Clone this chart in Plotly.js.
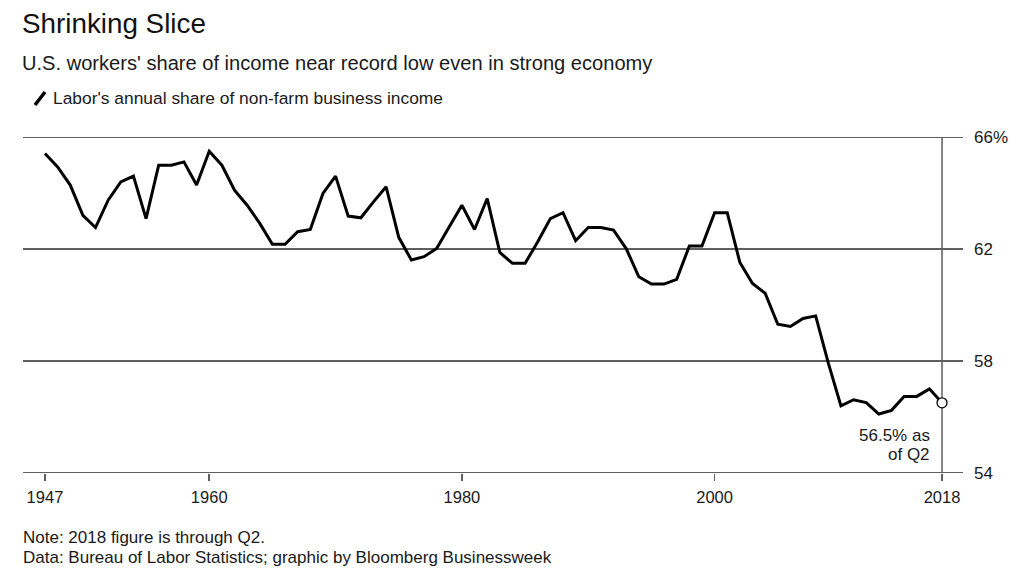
<!DOCTYPE html>
<html>
<head>
<meta charset="utf-8">
<script src="https://cdn.plot.ly/plotly-3.0.1.min.js"></script>
<style>html,body{margin:0;padding:0;background:#fff;}#chart{width:1024px;height:586px;}</style>
</head>
<body>
<div id="chart"></div>
<script>
// ---- Data ----
const years = [1947,1948,1949,1950,1951,1952,1953,1954,1955,1956,1957,1958,1959,1960,1961,1962,1963,1964,1965,1966,1967,1968,1969,1970,1971,1972,1973,1974,1975,1976,1977,1978,1979,1980,1981,1982,1983,1984,1985,1986,1987,1988,1989,1990,1991,1992,1993,1994,1995,1996,1997,1998,1999,2000,2001,2002,2003,2004,2005,2006,2007,2008,2009,2010,2011,2012,2013,2014,2015,2016,2017,2018];
const laborShare = [65.42,64.94,64.29,63.21,62.77,63.75,64.40,64.61,63.09,65.00,65.00,65.12,64.29,65.50,65.00,64.11,63.57,62.92,62.17,62.17,62.62,62.70,63.99,64.61,63.18,63.12,63.69,64.23,62.42,61.61,61.73,62.02,62.80,63.57,62.70,63.81,61.88,61.49,61.49,62.26,63.09,63.30,62.30,62.77,62.77,62.68,62.02,61.01,60.75,60.75,60.92,62.11,62.11,63.30,63.30,61.52,60.77,60.42,59.31,59.23,59.52,59.61,57.92,56.39,56.61,56.51,56.10,56.23,56.73,56.73,57.00,56.50];
const xTickVals = [1947,1960,1980,2000,2018];
const xTickText = ['1947','1960','1980','2000','2018'];
const yTickVals = [54,58,62,66];
const yTickText = ['54','58','62','66%'];
const lastYear = years[years.length-1];
const lastValue = laborShare[laborShare.length-1];

// ---- Layout helpers (pixel -> paper) ----
const FW = 1024, FH = 586;
const L = 23, R = 61, T = 137, B = 113;
const W = FW - L - R, H = FH - T - B;
const px = p => (p - L) / W;
const py = p => (FH - B - p) / H;
const FONT = '"Liberation Sans", Arial, Helvetica, sans-serif';
const GRID = '#5e5e5e';
const TXT = '#1a1a1a';

const traces = [
  {
    x: years, y: laborShare, type: 'scatter', mode: 'lines',
    line: {color: '#000', width: 3},
    hoverinfo: 'x+y', showlegend: false
  },
  {
    x: [lastYear], y: [lastValue], type: 'scatter', mode: 'markers',
    marker: {size: 10, color: '#fff', line: {color: '#000', width: 1.3}},
    cliponaxis: false, showlegend: false
  }
];

const yMin = yTickVals[0], yMax = yTickVals[yTickVals.length-1];

const layout = {
  width: FW, height: FH,
  margin: {l: L, r: R, t: T, b: B, pad: 0},
  paper_bgcolor: '#fff', plot_bgcolor: '#fff',
  font: {family: FONT, color: TXT, size: 17},
  showlegend: false,
  xaxis: {
    range: [1945.26, 2019.66],
    showgrid: false, zeroline: false, showline: false,
    tickmode: 'array', tickvals: xTickVals, ticktext: xTickText,
    ticks: 'outside', ticklen: 7, tickwidth: 1.5, tickcolor: GRID,
    ticklabelstandoff: 2,
    tickfont: {size: 16.5, color: TXT}
  },
  yaxis: {
    range: [yMin - 0.01, yMax + 0.01], side: 'right',
    showgrid: true, gridcolor: GRID, gridwidth: 1.5,
    zeroline: false, showline: false,
    tickmode: 'array', tickvals: yTickVals, ticktext: yTickText,
    ticks: '', ticklabelstandoff: 10,
    tickfont: {size: 17, color: TXT}
  },
  shapes: [
    {type: 'line', xref: 'paper', yref: 'y', x0: 0, x1: 1, y0: yMin, y1: yMin,
     line: {color: GRID, width: 1.5}, layer: 'below'},
    {type: 'line', xref: 'paper', yref: 'y', x0: 0, x1: 1, y0: yMax, y1: yMax,
     line: {color: GRID, width: 1.5}, layer: 'below'},
    {type: 'line', xref: 'x', yref: 'y', x0: lastYear, x1: lastYear, y0: yMin, y1: yMax,
     line: {color: GRID, width: 1.5}, layer: 'below'},
    {type: 'line', xref: 'paper', yref: 'paper', x0: px(35), x1: px(45), y0: py(105), y1: py(92),
     line: {color: '#000', width: 3.5}}
  ],
  annotations: [
    {xref: 'paper', yref: 'paper', x: px(20), y: py(23), xanchor: 'left', yanchor: 'middle',
     text: 'Shrinking Slice', showarrow: false, font: {size: 27.8, color: '#111'}},
    {xref: 'paper', yref: 'paper', x: px(20), y: py(63), xanchor: 'left', yanchor: 'middle',
     text: "U.S. workers' share of income near record low even in strong economy", showarrow: false,
     font: {size: 20.1, color: TXT}},
    {xref: 'paper', yref: 'paper', x: px(51), y: py(98), xanchor: 'left', yanchor: 'middle',
     text: "Labor's annual share of non-farm business income", showarrow: false,
     font: {size: 17.4, color: TXT}},
    {xref: 'paper', yref: 'paper', x: px(932), y: py(435), xanchor: 'right', yanchor: 'middle',
     text: '56.5% as', showarrow: false, font: {size: 17, color: TXT}},
    {xref: 'paper', yref: 'paper', x: px(932), y: py(454), xanchor: 'right', yanchor: 'middle',
     text: 'of Q2', showarrow: false, font: {size: 17, color: TXT}},
    {xref: 'paper', yref: 'paper', x: px(21), y: py(537), xanchor: 'left', yanchor: 'middle',
     text: 'Note: 2018 figure is through Q2.', showarrow: false, font: {size: 17, color: TXT}},
    {xref: 'paper', yref: 'paper', x: px(21), y: py(557), xanchor: 'left', yanchor: 'middle',
     text: 'Data: Bureau of Labor Statistics; graphic by Bloomberg Businessweek', showarrow: false,
     font: {size: 17, color: TXT}}
  ]
};

Plotly.newPlot('chart', traces, layout, {displayModeBar: false, staticPlot: true});
</script>
</body>
</html>
